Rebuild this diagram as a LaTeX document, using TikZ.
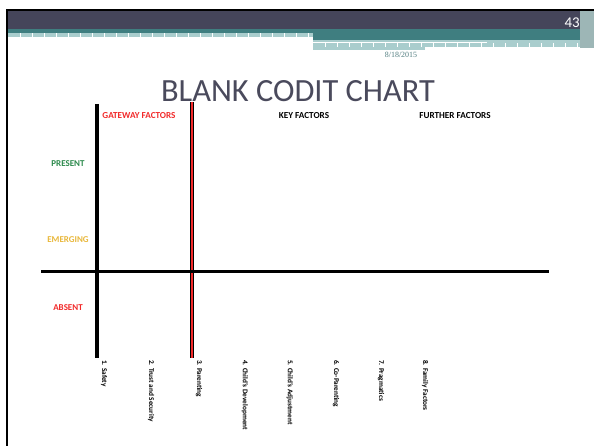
\documentclass[tikz,border=0pt]{standalone}
\usepackage{fontspec}
\setmainfont{Carlito}
\newfontfamily\datefont{Liberation Serif}
\definecolor{slateband}{HTML}{45455A}
\definecolor{tealband}{HTML}{3F7E80}
\definecolor{paleteal}{HTML}{A9CDCD}
\definecolor{titlegray}{HTML}{4A4A5C}
\definecolor{presentgreen}{HTML}{2C8A4C}
\definecolor{emerginggold}{HTML}{E9B83C}
\definecolor{absentred}{HTML}{F22A2A}
\begin{document}
\begin{tikzpicture}[x=1bp,y=-1bp,line cap=butt,
  rowlabel/.style={font=\fontsize{9}{10}\bfseries\selectfont,inner sep=0pt},
  collabel/.style={font=\fontsize{9.2}{10}\bfseries\selectfont,inner sep=0pt},
  itemlabel/.style={font=\fontsize{7.3}{8}\bfseries\selectfont,rotate=-90,anchor=west,inner sep=0pt},
  gridline/.style={line width=3.6bp}]
\useasboundingbox[fill=white] (0,0) rectangle (594,446);
% header bands
\fill[slateband] (8,11) rectangle (580,29);
\fill[tealband] (8,29) rectangle (580,33.5);
\fill[paleteal] (8,33.5) rectangle (313,37.5);
\fill[tealband] (313,33.5) rectangle (580,40);
\fill[paleteal] (313,40) rectangle (580,47);
\fill[paleteal] (313,47) rectangle (425,50);
\fill[white] (313,42) rectangle (487,43.5);
\fill[paleteal!70!gray] (580,11) rectangle (594,48);
\foreach \i in {20,32,...,310} \draw[white,line width=0.4bp] (\i,33.5) -- (\i,37.5);
\foreach \i in {325,337,...,580} \draw[white,line width=0.4bp] (\i,43.5) -- (\i,47);
\draw[line width=2.6bp] (7,446) -- (7,10) -- (594,10);
\node[text=white,anchor=east,inner sep=0pt,font=\fontsize{15}{16}\selectfont] (page) at (580,23) {43};
\node[text=tealband!70!gray,inner sep=0pt,font=\datefont\fontsize{8}{9}\selectfont] (date) at (401,55) {8/18/2015};
\node[text=titlegray,inner sep=0pt,font=\fontsize{32.5}{34}\selectfont] (title) at (298,91) {BLANK CODIT CHART};
% grid
\coordinate (gtop) at (97,104);
\coordinate (gbot) at (97,358);
\coordinate (rtop) at (192,102);
\coordinate (rbot) at (192,358);
\coordinate (hleft) at (41,272);
\coordinate (hright) at (549,272);
\draw[gridline] (gtop) -- (gbot);
\draw[gridline] (rtop) -- (rbot);
\draw[absentred,line width=1.4bp] (rtop) -- (rbot);
\draw[line width=3bp] (hleft) -- (hright);
% column and row labels
\node[collabel,text=absentred] (gateway) at (139,116) {GATEWAY FACTORS};
\node[collabel] (key) at (304,116) {KEY FACTORS};
\node[collabel] (further) at (455,116) {FURTHER FACTORS};
\node[rowlabel,text=presentgreen] (present) at (68,164) {PRESENT};
\node[rowlabel,text=emerginggold] (emerging) at (68,240) {EMERGING};
\node[rowlabel,text=absentred] (absent) at (68,308) {ABSENT};
% items
\node[itemlabel] (safety) at (104,360) {1. Safety};
\node[itemlabel] (trust) at (151,360) {2. Trust and Security};
\node[itemlabel] (parenting) at (199,360) {3. Parenting};
\node[itemlabel] (development) at (245,360) {4. Child's Development};
\node[itemlabel] (adjustment) at (290,360) {5. Child's Adjustment};
\node[itemlabel] (coparenting) at (336,360) {6. Co-Parenting};
\node[itemlabel] (pragmatics) at (381,360) {7. Pragmatics};
\node[itemlabel] (family) at (425,360) {8. Family Factors};
\end{tikzpicture}
\end{document}
